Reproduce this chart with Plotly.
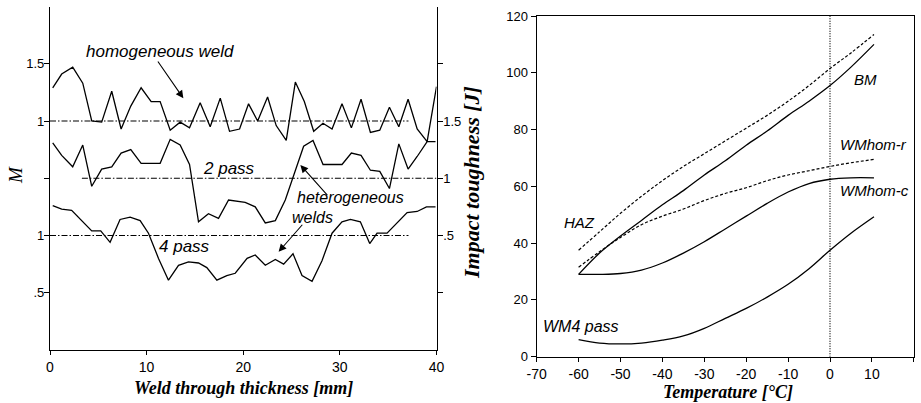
import plotly.graph_objects as go

# ---------------- Left panel data (M through weld thickness) ----------------
hom_x = [0.28, 1.21, 2.35, 3.39, 4.32, 5.35, 6.39, 7.36, 8.36, 9.43, 10.47, 11.40, 12.44, 13.47,
         14.44, 15.54, 16.58, 17.62, 18.58, 19.62, 20.55, 21.49, 22.52, 23.41, 24.45, 25.39, 26.32,
         27.29, 28.25, 29.19, 30.22, 31.19, 32.19, 33.16, 34.13, 35.13, 36.10, 37.06, 38.00, 39.03, 40.0]
hom_M = [1.29, 1.41, 1.47, 1.33, 1.00, 0.99, 1.26, 0.93, 1.13, 1.29, 1.17, 1.17, 0.92, 0.99,
         0.94, 1.16, 0.95, 1.20, 0.91, 0.93, 1.15, 1.00, 1.21, 0.96, 0.83, 1.34, 1.17,
         0.91, 0.98, 0.93, 1.15, 0.94, 1.19, 0.90, 0.92, 1.12, 0.95, 1.19, 0.93, 0.82, 1.30]

p2_x = [0.28, 1.21, 2.35, 3.39, 4.32, 5.35, 6.39, 7.36, 8.36, 9.43, 11.40, 12.44, 13.47, 14.44,
        15.37, 16.40, 17.44, 18.48, 20.20, 21.24, 22.28, 23.32, 24.35, 26.25, 27.22, 28.26, 30.22,
        31.19, 32.19, 33.16, 34.13, 35.13, 36.10, 37.06, 38.00, 39.03, 39.90]
p2_M = [1.31, 1.20, 1.10, 1.29, 0.93, 1.08, 1.10, 1.22, 1.25, 1.13, 1.13, 1.34, 1.29, 1.12,
        0.62, 0.69, 0.65, 0.81, 0.79, 0.75, 0.61, 0.63, 0.81, 1.28, 1.33, 1.12, 1.12,
        1.22, 1.20, 1.07, 1.06, 0.91, 1.30, 1.08, 1.19, 1.32, 1.32]

p4_x = [0.28, 1.21, 2.24, 3.28, 4.32, 5.25, 6.22, 7.25, 8.29, 9.33, 10.19, 11.23, 12.26, 13.30,
        14.33, 15.37, 16.23, 17.27, 18.30, 19.17, 20.40, 21.24, 22.28, 23.32, 24.18, 25.15, 26.08,
        27.12, 28.15, 29.19, 30.22, 31.09, 32.12, 33.09, 33.85, 34.88, 35.92, 36.96, 38.00, 38.96, 39.90]
p4_M = [1.26, 1.23, 1.22, 1.13, 1.04, 1.04, 0.94, 1.14, 1.16, 1.13, 1.02, 0.80, 0.61, 0.74,
        0.77, 0.76, 0.72, 0.61, 0.65, 0.67, 0.80, 0.83, 0.74, 0.79, 0.75, 0.84, 0.65,
        0.60, 0.78, 1.02, 1.12, 1.14, 1.12, 0.93, 1.02, 1.02, 1.11, 1.20, 1.21, 1.25, 1.25]

# reference level M = 1 for each curve, with its x-extent
ref_level = 1.0
hom_ref_x = [0.0, 37.1]
p2_ref_x = [3.3, 40.0]
p4_ref_x = [0.0, 37.1]

# vertical stacking offsets of the three curves (in M units)
hom_off, p2_off, p4_off = 1.0, 0.5, 0.0

left_tickvals = [0.5, 1.0, 1.5, 2.0, 2.5]
left_ticktext = ['.5', '1', '', '1', '1.5']
right_ticktext = ['', '.5', '1', '1.5', '']
x_ticks_left = [0, 10, 20, 30, 40]

# ---------------- Right panel data (impact toughness vs temperature) ----------------
temp = [-60, -55, -50, -45, -40, -35, -30, -25, -20, -15, -10, -5, 0, 5, 10.5]
bm = [29, 36.5, 42.5, 48, 53.5, 58.5, 64, 69, 74.5, 79.5, 85, 90, 95.5, 102, 110]
haz = [37.5, 44, 50.5, 56.5, 62, 67, 71.5, 76, 80.5, 85, 90, 95.5, 101.5, 107, 113.5]
wm_hom_r = [31.5, 37, 42, 46.5, 49.5, 52, 55, 57.5, 59.5, 62, 64, 65.5, 67, 68.3, 69.5]
wm_hom_c = [29, 29, 29.3, 30.5, 33, 36.5, 40.5, 45, 49.5, 54, 58, 61, 62.5, 63, 63]
wm4 = [6, 4.8, 4.5, 4.8, 5.8, 7.3, 10, 13.5, 17, 21, 25.5, 31, 37.5, 43.5, 49.3]
zero_line_T = [0, 0]
zero_line_Y = [0, 120]
temp_ticks = [-70, -60, -50, -40, -30, -20, -10, 0, 10, 20]
tough_ticks = [0, 20, 40, 60, 80, 100, 120]

W, H = 921, 403
def px(v): return v / W
def py(v): return 1 - v / H

BLK = 'black'
SANS = 'Liberation Sans'
SERIF = 'Liberation Serif'
refdash = '6px,2px,1.5px,2px'

fig = go.Figure()

def add_left(x, y, off, dash=None, width=1.3):
    fig.add_trace(go.Scatter(x=x, y=[v + off for v in y], mode='lines', xaxis='x', yaxis='y',
                             line=dict(color=BLK, width=width, dash=dash), hoverinfo='skip'))

add_left(hom_x, hom_M, hom_off)
add_left(p2_x, p2_M, p2_off)
add_left(p4_x, p4_M, p4_off)
add_left(hom_ref_x, [ref_level] * 2, hom_off, dash=refdash, width=1.1)
add_left(p2_ref_x, [ref_level] * 2, p2_off, dash=refdash, width=1.1)
add_left(p4_ref_x, [ref_level] * 2, p4_off, dash=refdash, width=1.1)
# invisible trace to activate the right-hand axis of the left panel
fig.add_trace(go.Scatter(x=[0], y=[0], xaxis='x', yaxis='y2', mode='markers',
                         marker=dict(opacity=0), hoverinfo='skip'))

def add_right(y, dash=None, width=1.3):
    fig.add_trace(go.Scatter(x=temp, y=y, mode='lines', xaxis='x3', yaxis='y3', line_shape='spline',
                             line=dict(color=BLK, width=width, dash=dash), hoverinfo='skip'))

add_right(haz, dash='3px,2px', width=1.2)
add_right(bm)
add_right(wm_hom_r, dash='3px,2px', width=1.2)
add_right(wm_hom_c)
add_right(wm4)
fig.add_trace(go.Scatter(x=zero_line_T, y=zero_line_Y, mode='lines', xaxis='x3', yaxis='y3',
                         line=dict(color=BLK, width=1.2, dash='1px,1.5px'), hoverinfo='skip'))

axis_common = dict(showline=True, linecolor=BLK, linewidth=1.2, ticks='outside', tickcolor=BLK,
                   tickwidth=1.2, showgrid=False, zeroline=False, automargin=False)
yfont = dict(family=SANS, size=13, color=BLK)
xfont = dict(family=SANS, size=14, color=BLK)

fig.update_layout(
    width=W, height=H, margin=dict(l=0, r=0, t=0, b=0),
    paper_bgcolor='white', plot_bgcolor='white', showlegend=False,
    xaxis=dict(domain=[px(50), px(436.5)], range=[0, 40], anchor='y', tickvals=x_ticks_left,
               ticklen=4, tickfont=xfont, **axis_common),
    yaxis=dict(domain=[py(350), py(6.5)], range=[0, 3], anchor='x', tickvals=left_tickvals,
               ticktext=left_ticktext, ticklen=5, tickfont=yfont, ticklabelstandoff=-3,
               **axis_common),
    yaxis2=dict(overlaying='y', side='right', anchor='x', range=[0, 3], tickvals=left_tickvals,
                ticktext=right_ticktext, ticklen=5, tickfont=yfont, ticklabelstandoff=-2,
                **axis_common),
    xaxis3=dict(domain=[px(536.7), px(913.8)], range=[-70, 20], anchor='y3', tickvals=temp_ticks,
                ticktext=[str(t) for t in temp_ticks], ticklen=4, mirror=True, tickfont=xfont,
                **axis_common),
    yaxis3=dict(domain=[py(356.7), py(16)], range=[0, 120], anchor='x3', tickvals=tough_ticks,
                ticktext=[str(t) for t in tough_ticks], ticklen=5, mirror=True, tickfont=yfont,
                **axis_common),
)

ann = []
def label(text, x, y, xref, yref, size=16, xanchor='center', yanchor='middle', family=SANS,
          style='italic', weight='normal', angle=0):
    ann.append(dict(text=text, x=x, y=y, xref=xref, yref=yref, showarrow=False, xanchor=xanchor,
                    yanchor=yanchor, textangle=angle, borderpad=0,
                    font=dict(family=family, size=size, color=BLK, style=style, weight=weight)))

def arrow(hx, hy, tx, ty):
    ann.append(dict(text='', x=hx, y=hy, ax=tx, ay=ty, xref='x', yref='y', axref='x', ayref='y',
                    showarrow=True, arrowhead=2, arrowsize=1.4, arrowwidth=1.1, arrowcolor=BLK))

# left panel labels (y in stacked plot units)
label('homogeneous weld', 11.37, 2.605, 'x', 'y', size=17)
label('2 pass', 18.5, 1.587, 'x', 'y', size=17)
label('heterogeneous', 25.45, 1.245, 'x', 'y', xanchor='left', yanchor='bottom', size=16)
label('welds', 24.95, 1.24, 'x', 'y', xanchor='left', yanchor='top', size=16)
label('4 pass', 13.9, 0.90, 'x', 'y', size=17)
arrow(13.8, 2.198, 11.06, 2.533)
arrow(25.91, 1.616, 28.84, 1.339)
arrow(23.66, 0.858, 26.25, 1.107)

# right panel labels
label('BM', 5.5, 97.5, 'x3', 'y3', size=15, xanchor='left')
label('WMhom-r', 2.2, 74.6, 'x3', 'y3', size=15, xanchor='left')
label('WMhom-c', 2.2, 58.7, 'x3', 'y3', size=15, xanchor='left')
label('HAZ', -63.7, 47.4, 'x3', 'y3', size=15, xanchor='left')
label('WM4 pass', -68.8, 10.5, 'x3', 'y3', size=16, xanchor='left')

# axis titles
label('Weld through thickness [mm]', px(243), py(388), 'paper', 'paper', size=18, family=SERIF,
      weight='bold')
label('Temperature [°C]', px(728), py(392), 'paper', 'paper', size=18, family=SERIF, weight='bold')
label('Impact toughness [J]', px(472), py(183), 'paper', 'paper', size=22, family=SERIF,
      weight='bold', angle=-90)
label('M', px(15), py(175), 'paper', 'paper', size=19, family=SERIF, angle=-90)

fig.update_layout(annotations=ann)
fig.write_html('out.html', config={'displayModeBar': False},
               post_script="document.body.style.margin='0px';")
